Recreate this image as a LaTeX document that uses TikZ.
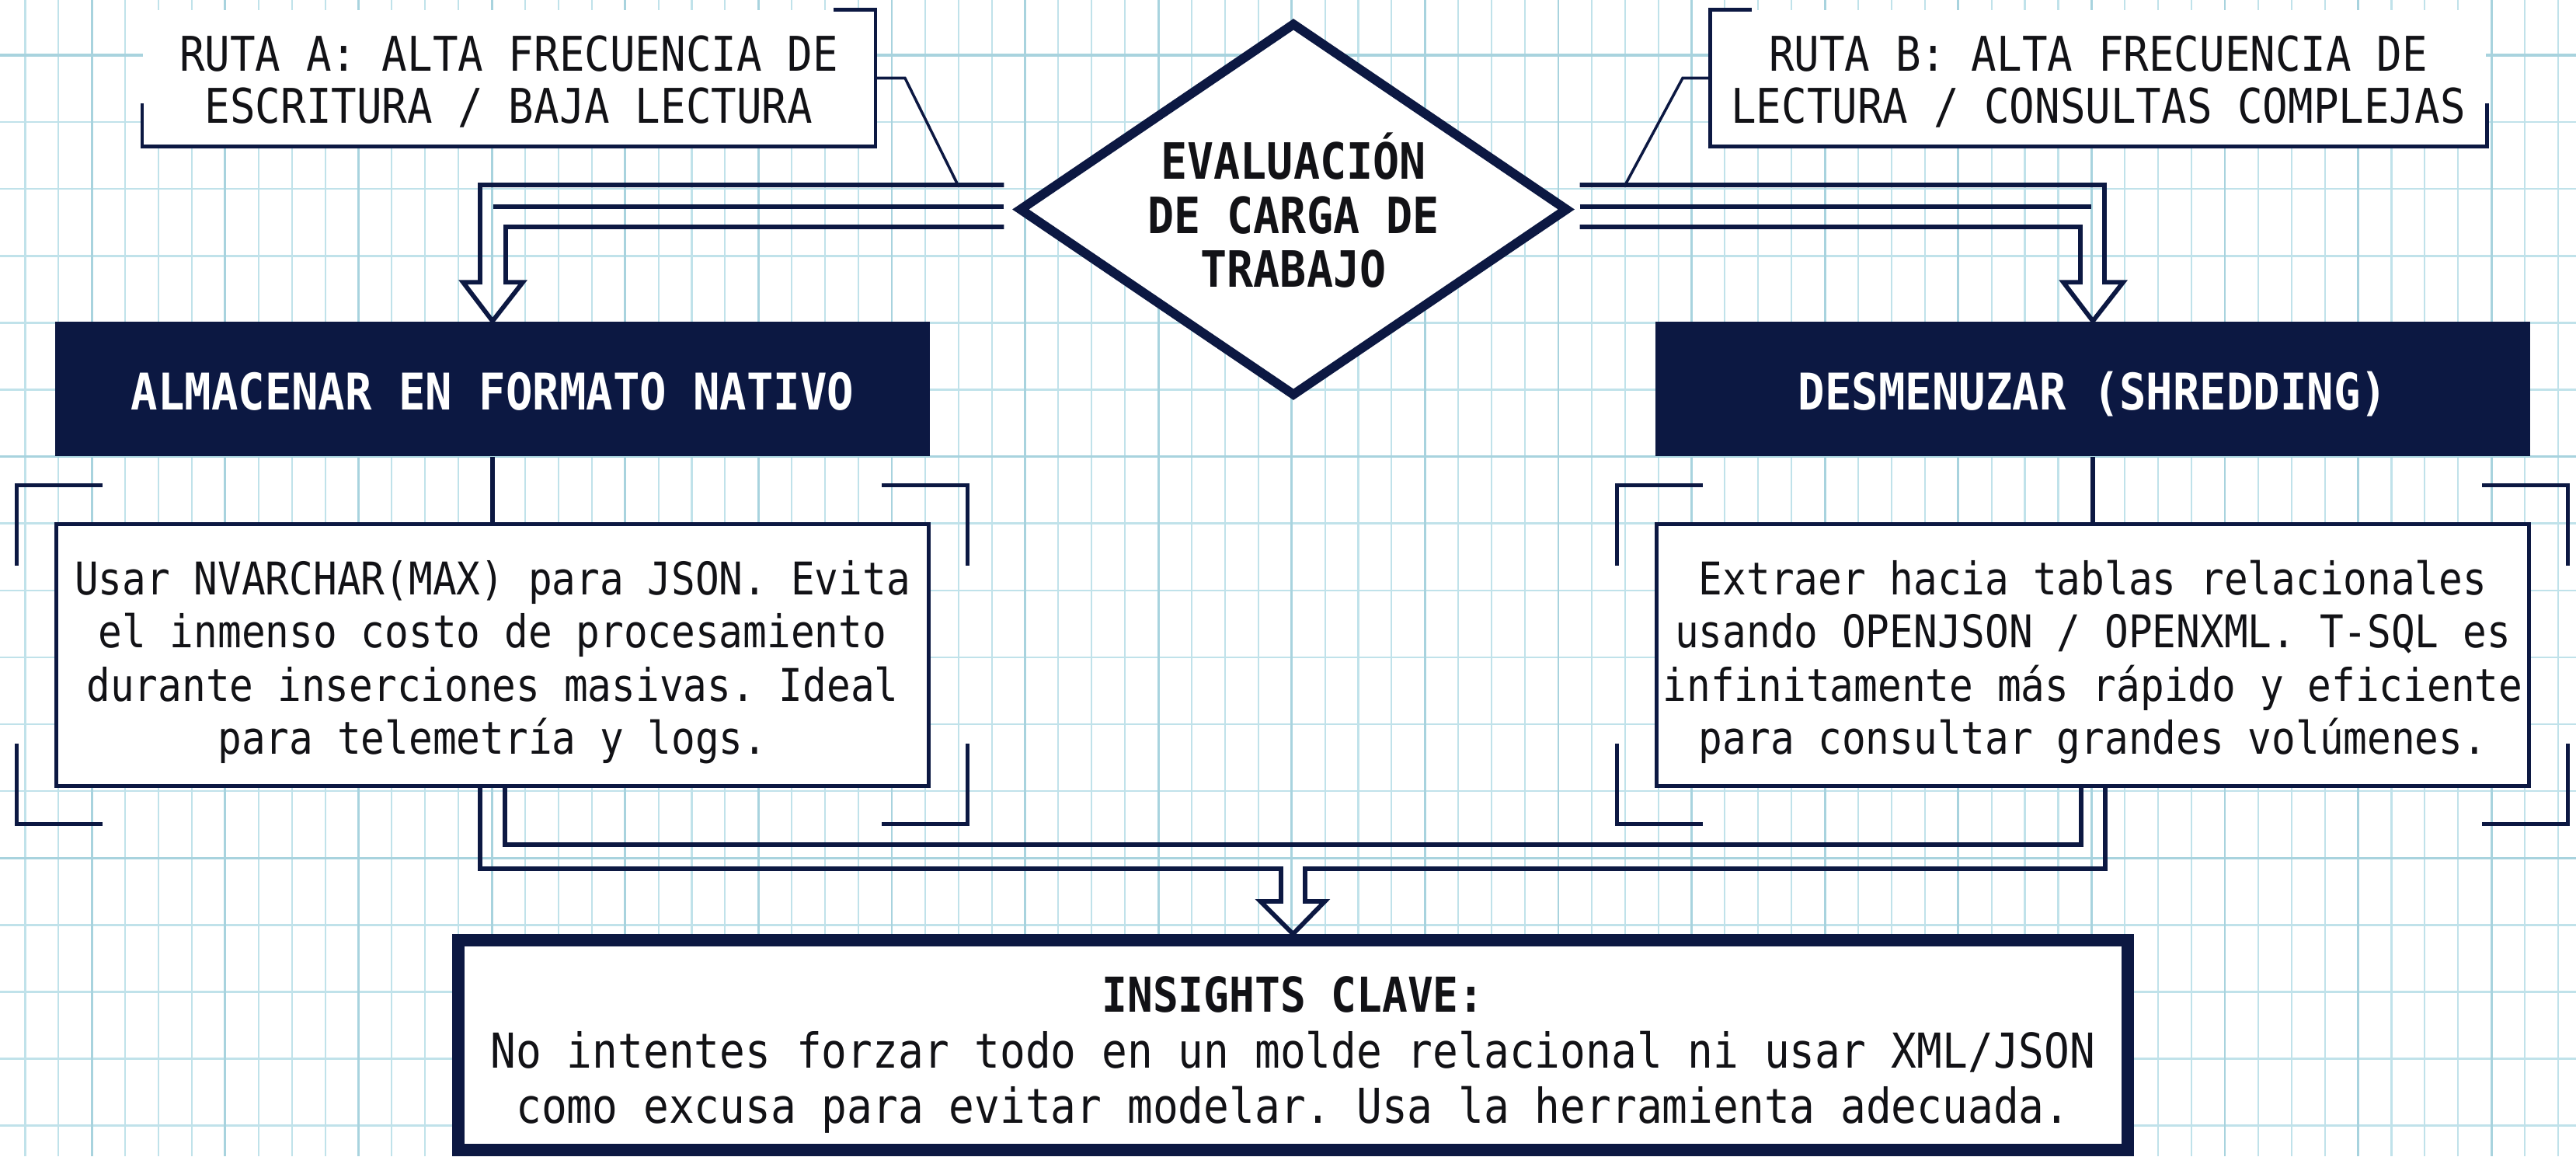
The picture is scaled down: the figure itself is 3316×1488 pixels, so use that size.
\documentclass[tikz,border=0pt]{standalone}
\usepackage{fontspec}
\setmonofont{DejaVu Sans Mono}[FakeStretch=0.88]
\usetikzlibrary{shapes.geometric,calc}
\definecolor{navy}{RGB}{12,24,66}
\definecolor{ink}{RGB}{18,18,22}
\definecolor{gridminor}{RGB}{192,226,234}
\definecolor{gridmajor}{RGB}{168,211,222}
\newcommand\rutaf{\fontsize{17.5pt}{18.78pt}\selectfont\ttfamily}
\newcommand\diaf{\fontsize{18.3pt}{19.83pt}\selectfont\ttfamily\bfseries}
\newcommand\hdrf{\fontsize{18.5pt}{20pt}\selectfont\ttfamily\bfseries}
\newcommand\bodyf{\fontsize{16.5pt}{19.35pt}\selectfont\ttfamily}
\newcommand\insf{\fontsize{17.6pt}{20.2pt}\selectfont\ttfamily}
\newcommand\tst[1]{\rule{0pt}{#1em}}
\newcommand\bst{\rule[-0.3em]{0pt}{0.3em}}
\begin{document}
\begin{tikzpicture}[x=0.01cm, y=-0.01cm,
  conn/.style={draw=navy, line width=1.65pt},
  thinconn/.style={draw=navy, line width=1pt},
  brk/.style={draw=navy, line width=1.4pt},
  callout/.style={fill=white, inner sep=0pt, minimum height=1.75cm, align=center, text=ink, font=\rutaf},
  hdr/.style={fill=navy, text=white, inner sep=0pt, minimum width=11.26cm, minimum height=1.73cm, font=\hdrf, text height=17.2pt, text depth=1.85pt},
  body/.style={draw=navy, line width=1.4pt, fill=white, inner sep=0pt, minimum width=11.23cm, minimum height=3.37cm, align=center, font=\bodyf, text=ink},
  dia/.style={draw=navy, line width=3.4pt, fill=white, diamond, inner sep=0pt, minimum width=7.07cm, minimum height=4.81cm},
  ins/.style={draw=navy, line width=4.55pt, fill=white, inner sep=0pt, minimum width=21.47cm, minimum height=2.70cm, align=center, font=\insf, text=ink}
]
\useasboundingbox (0,0) rectangle (3316,1488);
\fill[white] (0,0) rectangle (3316,1488);
% grid
\foreach \k in {0,...,76}{\draw[gridminor, line width=0.6pt] ({32.5+42.9*\k},0) -- ({32.5+42.9*\k},1488);}
\foreach \k in {0,...,16}{\draw[gridminor, line width=0.7pt] (0,{71+86.1*\k}) -- (3316,{71+86.1*\k});}
\foreach \k in {2,6,...,74}{\draw[gridmajor, line width=0.8pt] ({32.5+42.9*\k},0) -- ({32.5+42.9*\k},1488);}
\foreach \k in {0,6,12}{\draw[gridmajor, line width=0.9pt] (0,{71+86.1*\k}) -- (3316,{71+86.1*\k});}

% nodes
\node[callout, minimum width=9.42cm] (rA) at (655,100.5) {\tst{1.096}RUTA A: ALTA FRECUENCIA DE\\ESCRITURA / BAJA LECTURA\bst};
\node[callout, minimum width=9.98cm] (rB) at (2701,100.5) {\tst{1.096}RUTA B: ALTA FRECUENCIA DE\\LECTURA / CONSULTAS COMPLEJAS\bst};
\node[dia] (dia) at (1665,269.5) {};
\node[font=\diaf, align=center, text=ink, inner sep=0pt] (diat) at (1665,269.5) {\tst{1.249}EVALUACIÓN\\DE CARGA DE\\TRABAJO\bst};
\node[hdr] (aln) at (634,500.5) {ALMACENAR EN FORMATO NATIVO};
\node[hdr] (drn) at (2694,500.5) {DESMENUZAR (SHREDDING)};
\node[body] (wl) at (634,843) {\tst{1.162}Usar NVARCHAR(MAX) para JSON. Evita\\el inmenso costo de procesamiento\\durante inserciones masivas. Ideal\\para telemetría y logs.\bst};
\node[body] (wr) at (2694,843) {\tst{1.162}Extraer hacia tablas relacionales\\usando OPENJSON / OPENXML. T-SQL es\\infinitamente más rápido y eficiente\\para consultar grandes volúmenes.\bst};
\node[ins] (ins) at (1664.5,1345) {\tst{1.237}\textbf{INSIGHTS CLAVE:}\\No intentes forzar todo en un molde relacional ni usar XML/JSON\\como excusa para evitar modelar. Usa la herramienta adecuada.\bst};

% callout brackets
\draw[brk] ($(rA.north east)+(-54,0)$) -- (rA.north east) -- (rA.south east) -- (rA.south west) -- ++(0,-56);
\draw[brk] ($(rB.north west)+(54,0)$) -- (rB.north west) -- (rB.south west) -- (rB.south east) -- ++(0,-56);

% corner brackets around white boxes
\foreach \b in {wl,wr}{
  \draw[brk] ($(\b.north west)+(62,-47)$) -- ($(\b.north west)+(-48,-47)$) -- ($(\b.north west)+(-48,56)$);
  \draw[brk] ($(\b.north east)+(-63,-47)$) -- ($(\b.north east)+(47,-47)$) -- ($(\b.north east)+(47,56)$);
  \draw[brk] ($(\b.south west)+(62,46)$) -- ($(\b.south west)+(-48,46)$) -- ($(\b.south west)+(-48,-57)$);
  \draw[brk] ($(\b.south east)+(-63,46)$) -- ($(\b.south east)+(47,46)$) -- ($(\b.south east)+(47,-57)$);
}

% top-left hollow arrow
\draw[conn] ($(dia.west)+(-13,-31.5)$) -| ($(aln.north)+(-16,-50)$) -- ($(aln.north)+(-38,-50)$) -- (aln.north) -- ($(aln.north)+(39,-50)$) -- ($(aln.north)+(17,-50)$) |- ($(dia.west)+(-13,22.5)$);
\draw[conn] ($(dia.west)+(-13,-3.5)$) -- ++(-657,0);
% top-right hollow arrow
\draw[conn] ($(dia.east)+(9,-31.5)$) -| ($(drn.north)+(15,-50)$) -- ($(drn.north)+(39,-50)$) -- (drn.north) -- ($(drn.north)+(-38,-50)$) -- ($(drn.north)+(-16,-50)$) |- ($(dia.east)+(9,22.5)$);
\draw[conn] ($(dia.east)+(9,-3.5)$) -- ++(658,0);

% callout leaders
\coordinate (jA) at (1233,238);
\coordinate (jB) at (2092,238);
\draw[thinconn] (rA.east) -- ++(38,0) -- (jA);
\draw[thinconn] (rB.west) -- ++(-35,0) -- (jB);

% header to detail boxes
\draw[conn] (aln.south) -- (wl.north);
\draw[conn] (drn.south) -- (wr.north);

% bottom merging hollow arrow
\draw[conn] ($(wl.south)+(16,0)$) -- ++(0,73) -| ($(wr.south)+(-15,0)$);
\draw[conn] ($(wl.south)+(-16,0)$) |- ($(ins.north)+(-15.5,-84)$) -- ($(ins.north)+(-15.5,-42)$) -- ($(ins.north)+(-42,-42)$) -- (ins.north) -- ($(ins.north)+(41,-42)$) -- ($(ins.north)+(15.5,-42)$) -- ($(ins.north)+(15.5,-84)$) -| ($(wr.south)+(16,0)$);
\end{tikzpicture}
\end{document}
